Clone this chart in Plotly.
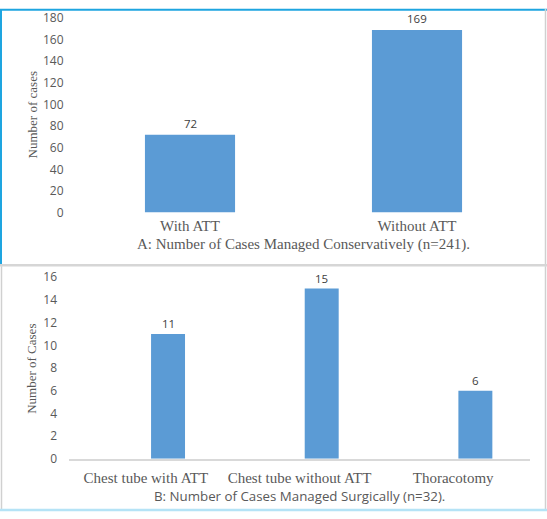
import plotly.graph_objects as go

W, H = 547, 519

# ---- data ----
cons_categories = ["With ATT", "Without ATT"]
cons_values = [72, 169]
surg_categories = ["Chest tube with ATT", "Chest tube without ATT", "Thoracotomy"]
surg_values = [11, 15, 6]
cons_ticks = [0, 20, 40, 60, 80, 100, 120, 140, 160, 180]
surg_ticks = [0, 2, 4, 6, 8, 10, 12, 14, 16]

BAR = "#5b9bd5"
TICK = "#595959"
LBL = "#404040"
SANS = "Open Sans, Liberation Sans, sans-serif"
SERIF = "Liberation Serif, Times New Roman, serif"


def px(x):
    return x / W


def py(y):
    return 1 - y / H


fig = go.Figure()
fig.add_trace(go.Bar(
    x=cons_categories, y=cons_values, xaxis="x", yaxis="y",
    marker=dict(color=BAR, line=dict(width=0)), width=0.397,
    showlegend=False, hoverinfo="x+y",
))
fig.add_trace(go.Bar(
    x=surg_categories, y=surg_values, xaxis="x2", yaxis="y2",
    marker=dict(color=BAR, line=dict(width=0)), width=0.221, offset=0.034,
    showlegend=False, hoverinfo="x+y",
))

fig.update_layout(
    width=W, height=H,
    margin=dict(l=0, r=0, t=0, b=0),
    paper_bgcolor="white", plot_bgcolor="white",
    xaxis=dict(domain=[px(76.5), px(530.5)], anchor="y", type="category",
               range=[-0.5, 1.5], showgrid=False, showline=False, zeroline=False,
               ticks="", ticklabelstandoff=2,
               tickfont=dict(family=SERIF, size=15, color=TICK)),
    yaxis=dict(domain=[py(210.5), py(9.3)], anchor="x", range=[0, 180],
               tickvals=cons_ticks, showgrid=False, showline=False, zeroline=False,
               ticks="", ticklabelstandoff=12,
               tickfont=dict(family=SANS, size=12, color=TICK)),
    xaxis2=dict(domain=[px(69), px(530)], anchor="y2", type="category",
                range=[-0.5, 2.5], showgrid=False, showline=True,
                linecolor="#d9d9d9", linewidth=1.5, zeroline=False,
                ticks="", ticklabelstandoff=4,
                tickfont=dict(family=SERIF, size=15, color=TICK)),
    yaxis2=dict(domain=[py(465), py(277.3)], anchor="x2", range=[0, 16],
                tickvals=surg_ticks, showgrid=False, showline=False, zeroline=False,
                ticks="", ticklabelstandoff=11,
                tickfont=dict(family=SANS, size=12, color=TICK)),
)

annotations = []
# value labels, positioned from the data through the axes
for c, v in zip(cons_categories, cons_values):
    annotations.append(dict(text=str(v), x=c, y=v, xref="x", yref="y", yshift=11,
                            xanchor="center", yanchor="middle", showarrow=False,
                            font=dict(family=SANS, size=11.5, color=LBL)))
for i, (c, v) in enumerate(zip(surg_categories, surg_values)):
    annotations.append(dict(text=str(v), x=i + 0.034 + 0.221 / 2, y=v, xref="x2", yref="y2",
                            yshift=10.5, xanchor="center", yanchor="middle", showarrow=False,
                            font=dict(family=SANS, size=11.5, color=LBL)))

paper_notes = [
    dict(text="Number of cases", x=px(32), y=py(110), textangle=-90,
         font=dict(family=SERIF, size=13, color=TICK)),
    dict(text="Number of Cases", x=px(32), y=py(372), textangle=-90,
         font=dict(family=SERIF, size=13, color=TICK)),
    dict(text="A: Number of Cases Managed Conservatively (n=241).", x=px(303.5), y=py(243),
         font=dict(family=SERIF, size=15, color=TICK)),
    dict(text="B: Number of Cases Managed Surgically (n=32).", x=px(299.5), y=py(503),
         font=dict(family=SANS, size=13.3, color=TICK)),
]
for a in paper_notes:
    a.update(xref="paper", yref="paper", showarrow=False, xanchor="center", yanchor="middle")
annotations += paper_notes
fig.update_layout(annotations=annotations)

shapes = [
    # top panel frame
    dict(type="line", x0=0, x1=1, y0=py(0.8), y1=py(0.8), line=dict(color="#1ea5e0", width=2)),
    dict(type="line", x0=px(1), x1=px(1), y0=py(0), y1=py(264), line=dict(color="#1ea5e0", width=2)),
    dict(type="line", x0=px(545.5), x1=px(545.5), y0=py(0), y1=py(264), line=dict(color="#d0d0d0", width=1.5)),
    # separator
    dict(type="line", x0=0, x1=1, y0=py(265), y1=py(265), line=dict(color="#d6d6d6", width=2.5)),
    # bottom panel frame
    dict(type="line", x0=px(1.5), x1=px(1.5), y0=py(266), y1=py(517), line=dict(color="#d0d0d0", width=1.5)),
    dict(type="line", x0=px(545.5), x1=px(545.5), y0=py(266), y1=py(517), line=dict(color="#d0d0d0", width=1.5)),
    dict(type="line", x0=0, x1=1, y0=py(518), y1=py(518), line=dict(color="#b5e3f6", width=2.5)),
]
for s in shapes:
    s.update(xref="paper", yref="paper", layer="above")
fig.update_layout(shapes=shapes)

fig.write_html("out.html")
